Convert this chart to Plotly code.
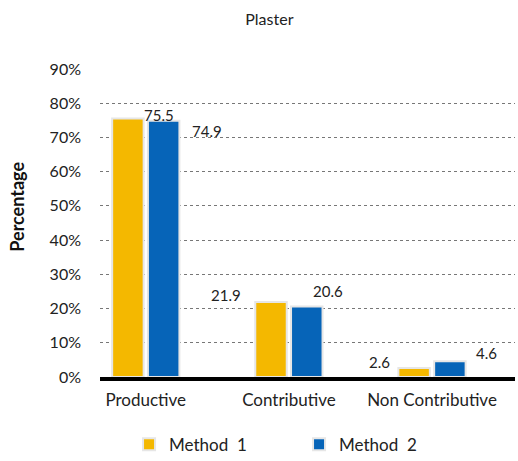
import plotly.graph_objects as go

categories = ["Productive", "Contributive", "Non Contributive"]
method1 = [75.5, 21.9, 2.6]
method2 = [74.9, 20.6, 4.6]
series_names = ["Method  1", "Method  2"]
y_ticks = [0, 10, 20, 30, 40, 50, 60, 70, 80, 90]
y_tick_labels = [f"{t}%" for t in y_ticks]

FONT = "Lato"
fig = go.Figure()
fig.add_trace(go.Bar(x=categories, y=method1, name=series_names[0],
                     marker=dict(color="#F4B800", line=dict(color="#e6e6e6", width=2))))
fig.add_trace(go.Bar(x=categories, y=method2, name=series_names[1],
                     marker=dict(color="#0664B8", line=dict(color="#e6e6e6", width=2))))

# value labels (offsets as in the reference)
lab = [
    (categories[0], method1[0], "left", -4, 4),
    (categories[0], method2[0], "left", 44, -10),
    (categories[1], method1[1], "right", -46, 7),
    (categories[1], method2[1], "left", 22, 16),
    (categories[2], method1[2], "right", -40, 6),
    (categories[2], method2[2], "left", 42, 8),
]
for x, v, anc, xs, ys in lab:
    fig.add_annotation(x=x, y=v, text=f"{v}", showarrow=False, xanchor=anc,
                       yanchor="middle", xshift=xs, yshift=ys,
                       font=dict(family=FONT, size=15, color="#222"))

# y-axis title placed as in the reference
fig.add_annotation(xref="paper", yref="paper", x=-0.2, y=0.553, text="<b>Percentage</b>",
                   textangle=-90, showarrow=False, xanchor="center", yanchor="middle",
                   font=dict(family=FONT, size=18, color="#111"))

fig.update_layout(
    width=518, height=461,
    margin=dict(l=100, r=3, t=69, b=84, autoexpand=False),
    paper_bgcolor="white", plot_bgcolor="white",
    barmode="group", bargap=0.5, bargroupgap=0.12,
    font=dict(family=FONT, color="#222"),
    title=dict(text="Plaster", x=0.52, xanchor="center", y=0.957, yanchor="middle",
               font=dict(family=FONT, size=16, color="#222")),
    showlegend=True,
    legend=dict(orientation="h", x=0.07, xanchor="left", y=-0.22, yanchor="middle",
                entrywidth=125, entrywidthmode="pixels",
                font=dict(family=FONT, size=17, color="#222")),
)
fig.update_xaxes(range=[-0.32, 2.58], showgrid=False, showline=True, linecolor="black",
                 linewidth=4, ticks="", ticklabelstandoff=5,
                 tickfont=dict(family=FONT, size=17, color="#222"))
fig.update_yaxes(range=[0, 90], tickmode="array", tickvals=y_ticks, ticktext=y_tick_labels,
                 showgrid=True, gridcolor="#777", griddash="dot", gridwidth=1, zeroline=False,
                 ticks="", ticklabelstandoff=18,
                 tickfont=dict(family=FONT, size=16, color="#222"))

fig.write_html("out.html")
